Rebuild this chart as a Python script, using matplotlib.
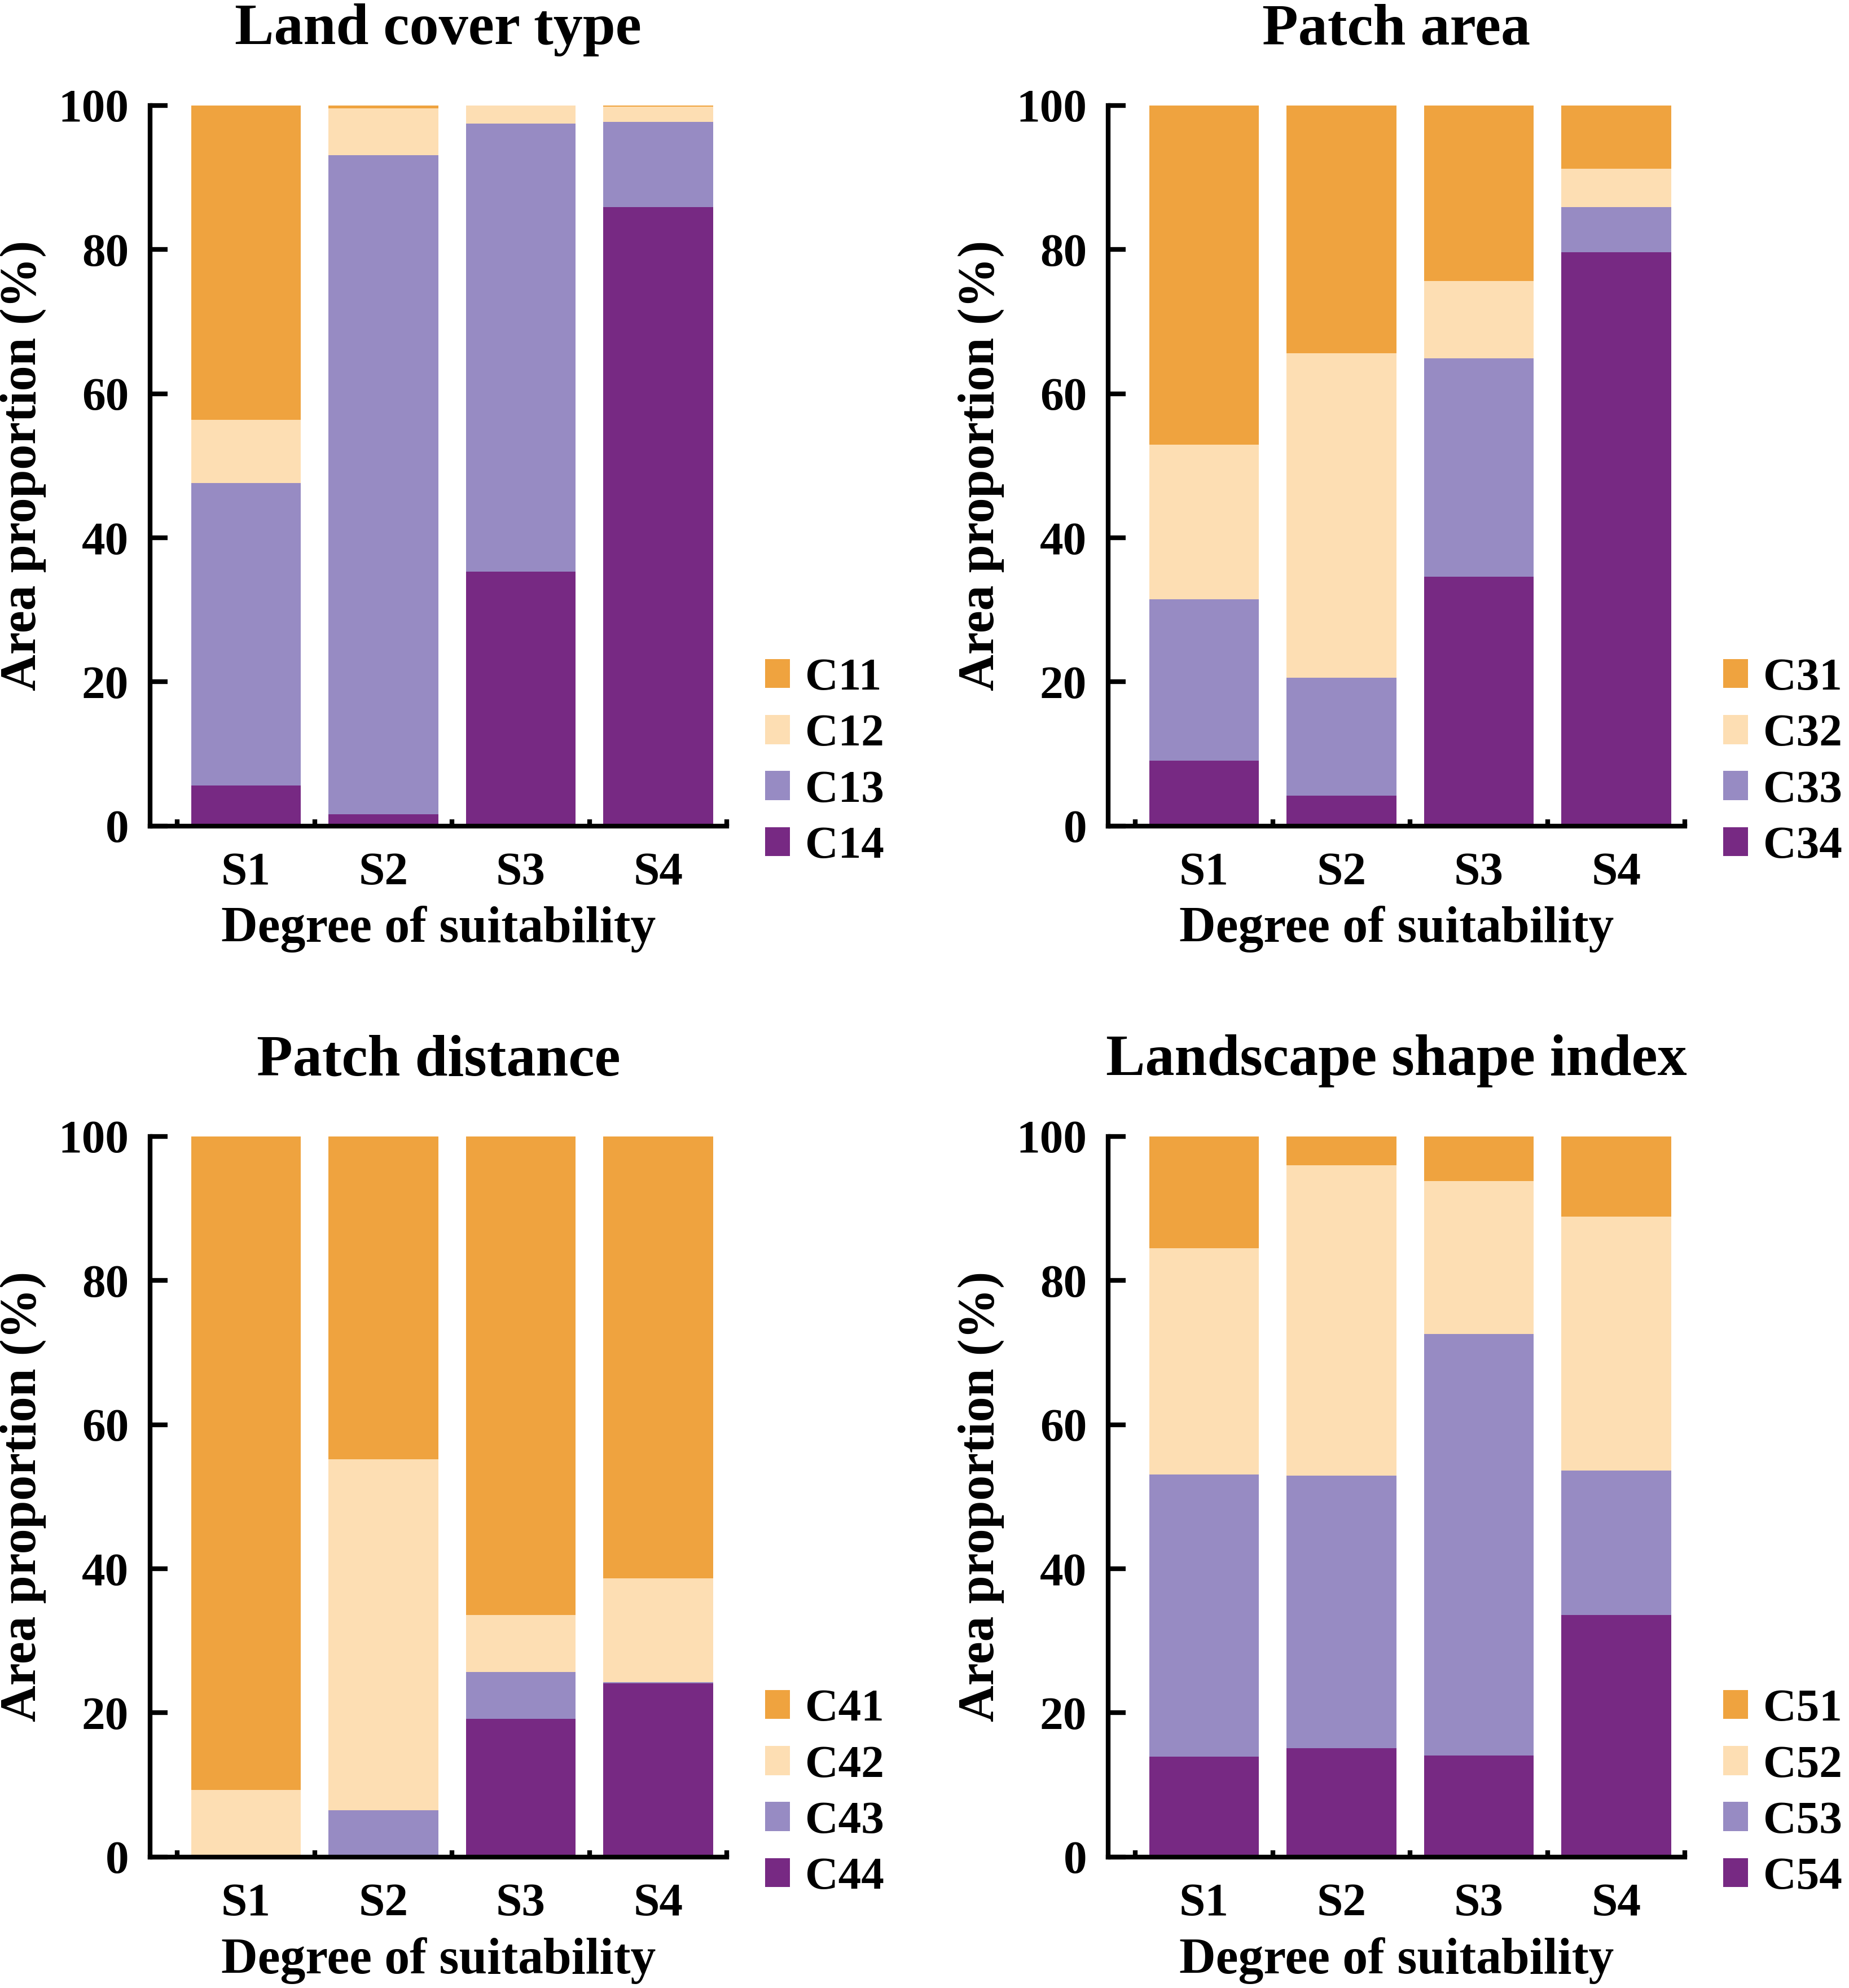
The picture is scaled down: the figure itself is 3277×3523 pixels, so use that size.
import matplotlib
matplotlib.use("Agg")
import matplotlib.pyplot as plt
import numpy as np

plt.rcParams['font.family'] = ['Liberation Serif', 'DejaVu Serif']
plt.rcParams['font.weight'] = 'bold'

grades = ['S1', 'S2', 'S3', 'S4']
colors = ['#EFA33F', '#FDDEB3', '#978BC3', '#772983']

titles = ['Land cover type', 'Patch area', 'Patch distance', 'Landscape shape index']
legend_labels = [
    ['C11', 'C12', 'C13', 'C14'],
    ['C31', 'C32', 'C33', 'C34'],
    ['C41', 'C42', 'C43', 'C44'],
    ['C51', 'C52', 'C53', 'C54'],
]

# area proportion (%) for each class, per suitability grade S1..S4
land_cover = [
    [43.6, 0.4, 0.0, 0.2],    # C11
    [8.8, 6.5, 2.5, 2.1],     # C12
    [42.0, 91.5, 62.2, 11.8], # C13
    [5.6, 1.6, 35.3, 85.9],   # C14
]
patch_area = [
    [47.1, 34.4, 24.4, 8.8],
    [21.4, 45.0, 10.7, 5.3],
    [22.4, 16.4, 30.3, 6.3],
    [9.1, 4.2, 34.6, 79.6],
]
patch_distance = [
    [90.7, 44.8, 66.4, 61.3],
    [9.3, 48.7, 7.9, 14.4],
    [0.0, 6.5, 6.5, 0.2],
    [0.0, 0.0, 19.2, 24.1],
]
shape_index = [
    [15.5, 4.0, 6.2, 11.1],
    [31.4, 43.1, 21.2, 35.3],
    [39.2, 37.8, 58.5, 20.0],
    [13.9, 15.1, 14.1, 33.6],
]
panels = [land_cover, patch_area, patch_distance, shape_index]

fig = plt.figure(figsize=(3278 / 300, 3523 / 300), dpi=300)
positions = [
    [0.081, 0.5845, 0.312, 0.3625],
    [0.599, 0.5845, 0.312, 0.3625],
    [0.081, 0.0659, 0.312, 0.3625],
    [0.599, 0.0659, 0.312, 0.3625],
]

x = np.arange(len(grades))
for pos, data, title, labels in zip(positions, panels, titles, legend_labels):
    ax = fig.add_axes(pos)
    # stack from the bottom class (last) upward
    bottom = np.zeros(len(grades))
    handles = []
    for vals, col, lab in reversed(list(zip(data, colors, labels))):
        b = ax.bar(x, vals, width=0.8, bottom=bottom, color=col, label=lab)
        bottom += np.array(vals)
        handles.append(b)
    handles = handles[::-1]

    ax.set_xlim(-0.7, 3.5)
    ax.set_ylim(0, 100)
    ax.set_yticks(range(0, 101, 20))
    ax.set_xticks(x)
    ax.set_xticklabels(grades)
    ax.set_xticks(np.arange(-0.5, 3.6, 1.0), minor=True)
    ax.tick_params(axis='x', which='major', length=0, pad=11, labelsize=20)
    ax.tick_params(axis='x', which='minor', direction='in', length=3, width=2)
    ax.tick_params(axis='y', direction='in', length=7.5, width=2, pad=9, labelsize=20)
    for s in ['top', 'right']:
        ax.spines[s].set_visible(False)
    for s in ['left', 'bottom']:
        ax.spines[s].set_linewidth(2)

    ax.set_xlabel('Degree of suitability', fontsize=21.5, fontweight='bold', labelpad=5)
    ax.set_ylabel('Area proportion (%)', fontsize=21.5, fontweight='bold', labelpad=5)
    ax.set_title(title, fontsize=25, fontweight='bold', pad=26)

    ax.legend(handles, labels, loc='lower left', bbox_to_anchor=(1.034, -0.083),
              frameon=False, fontsize=19.5, handlelength=0.55, handleheight=0.6,
              handletextpad=0.33, labelspacing=0.325, borderaxespad=0)

fig.savefig('out.png', dpi=300)
